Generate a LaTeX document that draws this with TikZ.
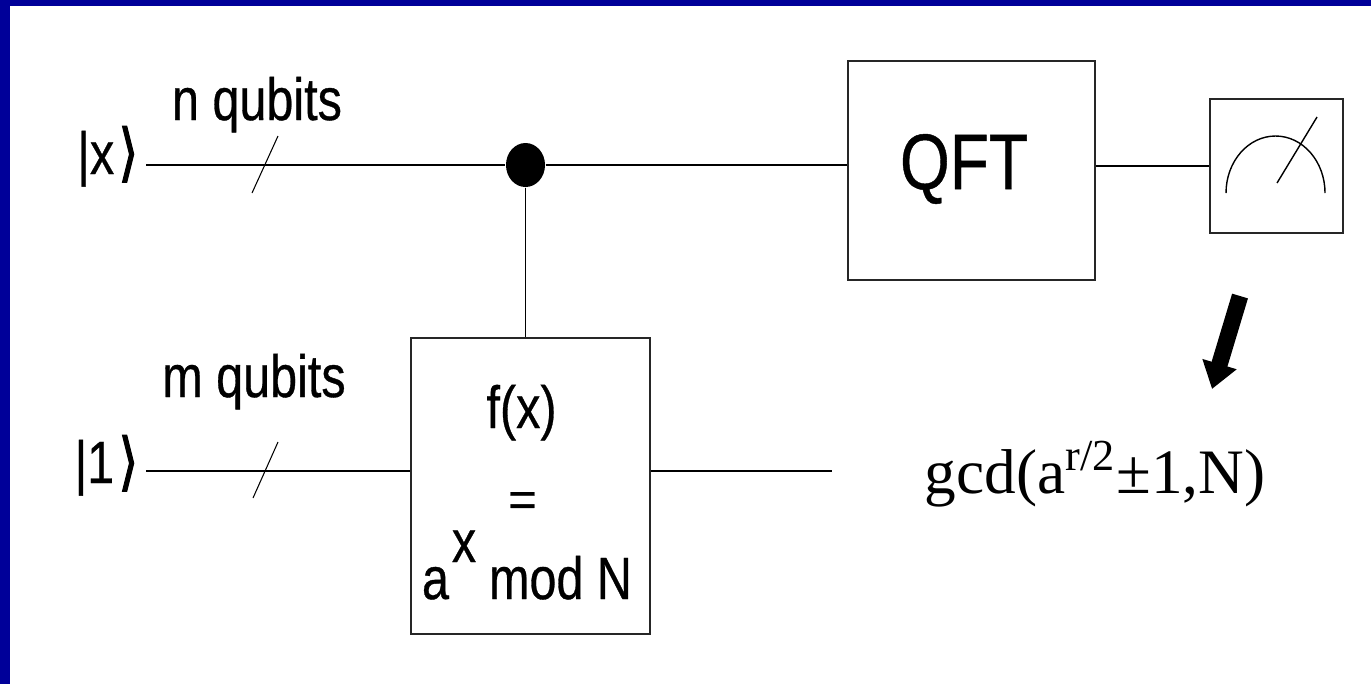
\documentclass[tikz,border=0pt]{standalone}
\usepackage{fontspec}
\setmainfont{Liberation Sans}
\newfontfamily\timesfont{Liberation Serif}
\newfontfamily\ketfont{DejaVu Sans}
\usepackage{xcolor}
\usetikzlibrary{arrows.meta,shapes.geometric,positioning,calc}
\definecolor{framecol}{HTML}{000099}
\newcommand{\tallText}[1]{\scalebox{1}[1.23]{#1}}
\newcommand{\ketEnd}{\scalebox{1.05}[1.3]{\ketfont\addfontfeature{FakeBold=2}⟩}}
\begin{document}
\begin{tikzpicture}[
        x=0.01cm, y=-0.01cm,
        gate/.style={draw=black!85,line width=0.6pt,fill=white,inner sep=0pt,anchor=north west},
        wire/.style={draw=black,line width=0.55pt},
        slash/.style={draw=black,line width=0.3pt},
        meter/.style={draw=black,line width=0.4pt},
        lbl/.style={inner sep=0pt,anchor=base,font=\fontsize{13.8}{16}\selectfont\addfontfeature{FakeBold=0.6}},
        ket/.style={lbl,anchor=base east},
        ctrl/.style={ellipse,fill=black,minimum width=0.39cm,minimum height=0.44cm,inner sep=0pt},
        >=Stealth
      ]
      \useasboundingbox (0,0) rectangle (1371,684);
      \fill[framecol] (0,0) rectangle (1371,684);
      \fill[white] (10,6) rectangle (1371,684);

      \node[ket] (KetX) at (139,174) {\tallText{|x}\hspace{1.2pt}\ketEnd};
      \node[ket] (KetOne) at (139,483) {\tallText{|1}\hspace{1.2pt}\ketEnd};
      \node[lbl] (NQ) at (257,120) {\tallText{n qubits}};
      \node[lbl] (MQ) at (254,397) {\tallText{m qubits}};

      \node[gate,minimum width=2.47cm,minimum height=2.19cm] (QFT) at (846.5,59.5) {};
      \node[gate,minimum width=1.33cm,minimum height=1.34cm] (Meter) at (1208.5,98) {};
      \node[gate,minimum width=2.39cm,minimum height=2.96cm] (Fx) at (410,337) {};
      \node[ctrl] (Dot) at (525.5,165) {};
      \coordinate (XIn) at (146,165);
      \coordinate (OneIn) at (146,471);
      \coordinate (Out) at (832,471);

      \node[lbl,font=\fontsize{18.2}{22}\selectfont\addfontfeature{FakeBold=0.6}] (QftTxt) at (964,189) {\tallText{QFT}};
      \node[lbl] (FxTop) at (521.5,428) {\tallText{f(x)}};
      \node[lbl] (Eq) at (522.5,516) {=};
      \node[lbl] (Base) at (435.5,599) {\tallText{a}};
      \node[lbl] (Pow) at (464,562) {\tallText{x}};
      \node[lbl] (Mod) at (560.5,599) {\tallText{mod N}};

      \draw[wire] (XIn) -- (Dot);
      \draw[wire] (Dot) -- (QFT.west |- Dot);
      \draw[wire] (QFT.east |- Meter.west) -- (Meter.west);
      \draw[wire] (Dot) -- (Dot |- Fx.north);
      \draw[wire] (OneIn) -- (Fx.west |- OneIn);
      \draw[wire] (Fx.east |- Out) -- (Out);

      % bus slashes
      \draw[slash] (278,136) -- (252,193);
      \draw[slash] (278,442) -- (253,498);

      % meter
      \draw[meter] (1226,193) arc[start angle=180,end angle=0,x radius=49.5,y radius=-57];
      \draw[meter] (1277,183) -- (1317,117);

      % result
      \coordinate (ArrTail) at (1240,296);
      \coordinate (ArrTip) at (1212,389);
      \draw[line width=4.7pt,-{Triangle[length=0.26cm,width=0.34cm]}] (ArrTail) -- (ArrTip);
      \node[inner sep=0pt,anchor=base,font=\timesfont\fontsize{18}{22}\selectfont] (Gcd) at (1095,493)
           {gcd(a\textsuperscript{r/2}±1,N)};
    \end{tikzpicture}
\end{document}
